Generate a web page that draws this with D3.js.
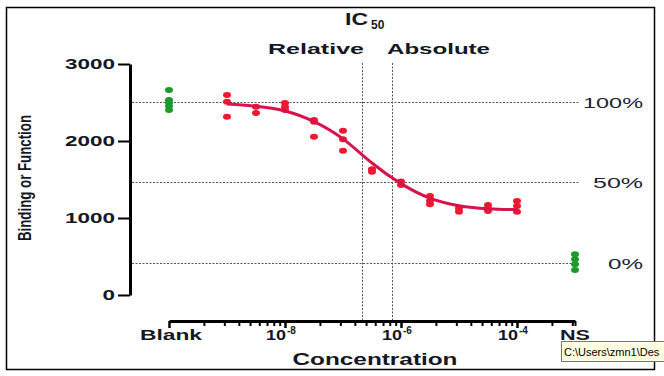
<!DOCTYPE html>
<html>
<head>
<meta charset="utf-8">
<script src="https://cdn.jsdelivr.net/npm/d3@7"></script>
<style>
  body { margin: 0; background: #fff; }
  text { font-family: "Liberation Sans", Arial, sans-serif; font-weight: bold; fill: #141824; }
</style>
</head>
<body>
<div id="chart"></div>
<script>
// dose-response data
const concentrations = [1e-9, 3.16e-9, 1e-8, 3.16e-8, 1e-7, 3.16e-7, 1e-6, 3.16e-6, 1e-5, 3.16e-5, 1e-4];
const replicates = [
    [2597, 2510, 2316],
    [2445, 2364],
    [2494, 2442, 2403],
    [2273, 2250, 2056],
    [2134, 2022, 1874],
    [1632, 1601],
    [1475, 1430],
    [1286, 1225, 1178],
    [1126, 1082],
    [1169, 1126, 1090],
    [1221, 1156, 1082]
];
const fitValues = [2480, 2455, 2405, 2265, 2050, 1700, 1435, 1240, 1150, 1118, 1108];
const blankValues = [2662, 2532, 2498, 2455, 2403];
const nsValues = [530, 465, 400, 325];
const blankPos = 1e-10;
const nsPos = 1e-3;
const yTicks = [0, 1000, 2000, 3000];
const xMajors = [1e-10, 1e-8, 1e-6, 1e-4];
const xLabels = [[1e-8, '-8'], [1e-6, '-6'], [1e-4, '-4']];
const refValues = [2510, 1462, 415];
const refLabels = ['100%', '50%', '0%'];
const ic50 = [['Relative', 2.09e-7], ['Absolute', 7.1e-7]];

const width = 664, height = 376;

const svg = d3.select('#chart').append('svg')
    .attr('width', width)
    .attr('height', height);

const x = d3.scaleLog().domain([1e-10, 1e-4]).range([169, 517]);
const y = d3.scaleLinear().domain([0, 3000]).range([295, 64]);

// frame
svg.append('rect')
    .attr('x', 6.5).attr('y', 7.5)
    .attr('width', 648).attr('height', 362)
    .attr('fill', 'none').attr('stroke', '#000').attr('stroke-width', 1.5);

// reference lines
svg.selectAll('.ref')
    .data(refValues)
    .enter().append('line')
    .attr('x1', 132).attr('x2', 579)
    .attr('y1', d => Math.round(y(d)) + 0.5)
    .attr('y2', d => Math.round(y(d)) + 0.5)
    .attr('stroke', '#555').attr('stroke-width', 1)
    .attr('stroke-dasharray', '2,1.5');

svg.selectAll('.refLabel')
    .data(refValues)
    .enter().append('text')
    .attr('x', 643)
    .attr('y', d => y(d) + 6)
    .attr('text-anchor', 'end')
    .attr('font-size', 15)
    .style('font-weight', 'normal')
    .style('fill', '#1c2438')
    .attr('textLength', (d, i) => [60, 50, 35][i])
    .attr('lengthAdjust', 'spacingAndGlyphs')
    .text((d, i) => refLabels[i]);

// IC50 verticals
svg.selectAll('.icLine')
    .data(ic50)
    .enter().append('line')
    .attr('x1', d => Math.round(x(d[1])) + 0.5)
    .attr('x2', d => Math.round(x(d[1])) + 0.5)
    .attr('y1', 63).attr('y2', 320)
    .attr('stroke', '#555').attr('stroke-width', 1)
    .attr('stroke-dasharray', '2,1.5');

svg.append('text')
    .attr('x', 364).attr('y', 54)
    .attr('text-anchor', 'end')
    .attr('font-size', 15)
    .attr('textLength', 96).attr('lengthAdjust', 'spacingAndGlyphs')
    .text(ic50[0][0]);
svg.append('text')
    .attr('x', 387).attr('y', 54)
    .attr('font-size', 15)
    .attr('textLength', 103).attr('lengthAdjust', 'spacingAndGlyphs')
    .text(ic50[1][0]);

// title
const title = svg.append('text').attr('x', 345).attr('y', 25).attr('font-size', 17);
title.append('tspan').attr('textLength', 23).attr('lengthAdjust', 'spacingAndGlyphs').text('IC');
title.append('tspan').attr('dy', 4).attr('font-size', 12).attr('dx', 3).text('50');

// y axis
const yAxis = svg.append('g')
    .attr('transform', 'translate(130,0)')
    .call(d3.axisLeft(y).tickValues(yTicks).tickFormat(d3.format('d'))
        .tickSize(12).tickSizeOuter(0).tickPadding(3));
yAxis.select('.domain').attr('stroke', '#000').attr('stroke-width', 3);
yAxis.selectAll('.tick line').attr('stroke', '#000').attr('stroke-width', 2);
yAxis.selectAll('.tick text')
    .attr('font-size', 14)
    .attr('font-family', '"Liberation Sans", Arial, sans-serif')
    .attr('textLength', d => String(d).length * 12.5)
    .attr('lengthAdjust', 'spacingAndGlyphs');

// x axis ticks: majors + minors
const xTickVals = [];
xMajors.forEach(m => {
    xTickVals.push(m);
    for (let k = 2; k <= 9; k++) {
        const v = m * k * k;
        if (v <= nsPos) xTickVals.push(v);
    }
});
xTickVals.push(nsPos);

const xAxisY = 321;
const xAxis = svg.append('g')
    .attr('transform', `translate(0,${xAxisY})`)
    .call(d3.axisBottom(d3.scaleLog().domain([blankPos, nsPos]).range([x(blankPos), x(nsPos)]))
        .tickValues(xTickVals).tickSize(5).tickSizeOuter(0).tickFormat(''));
xAxis.select('.domain').attr('stroke', '#000').attr('stroke-width', 3);
xAxis.selectAll('.tick line')
    .attr('stroke', '#000')
    .attr('stroke-width', d => xMajors.includes(d) ? 2.5 : 2)
    .attr('y2', d => xMajors.includes(d) ? 7 : 5);

// x labels
xLabels.forEach(([v, e]) => {
    const t = svg.append('text')
        .attr('x', x(v) - 19).attr('y', 340)
        .attr('font-size', 14);
    t.append('tspan').attr('textLength', 20).attr('lengthAdjust', 'spacingAndGlyphs').text('10');
    t.append('tspan').attr('dy', -6).attr('font-size', 10).attr('dx', 1).text(e);
});
svg.append('text')
    .attr('x', x(blankPos) + 2).attr('y', 340)
    .attr('text-anchor', 'middle').attr('font-size', 14)
    .attr('textLength', 62).attr('lengthAdjust', 'spacingAndGlyphs')
    .text('Blank');
svg.append('text')
    .attr('x', x(nsPos)).attr('y', 340)
    .attr('text-anchor', 'middle').attr('font-size', 14)
    .attr('textLength', 30).attr('lengthAdjust', 'spacingAndGlyphs')
    .text('NS');

// axis titles
svg.append('text')
    .attr('x', 375).attr('y', 365)
    .attr('text-anchor', 'middle').attr('font-size', 16)
    .attr('textLength', 165).attr('lengthAdjust', 'spacingAndGlyphs')
    .text('Concentration');
svg.append('text')
    .attr('transform', 'translate(31,178) rotate(-90)')
    .attr('text-anchor', 'middle').attr('font-size', 19)
    .attr('textLength', 126).attr('lengthAdjust', 'spacingAndGlyphs')
    .text('Binding or Function');

// points
const redPts = [];
concentrations.forEach((c, i) => replicates[i].forEach(v => redPts.push([c, v])));

svg.selectAll('.pt')
    .data(redPts)
    .enter().append('ellipse')
    .attr('cx', d => x(d[0])).attr('cy', d => y(d[1]))
    .attr('rx', 4).attr('ry', 3)
    .attr('fill', '#f0182e');

// fitted curve
const line = d3.line()
    .x((d, i) => x(concentrations[i]))
    .y(d => y(d))
    .curve(d3.curveBasis);
svg.append('path')
    .datum(fitValues)
    .attr('d', line)
    .attr('fill', 'none')
    .attr('stroke', '#d8124a')
    .attr('stroke-width', 3);

svg.selectAll('.blank')
    .data(blankValues)
    .enter().append('ellipse')
    .attr('cx', x(blankPos)).attr('cy', d => y(d))
    .attr('rx', 4).attr('ry', 3)
    .attr('fill', '#1c9a2c');
svg.selectAll('.ns')
    .data(nsValues)
    .enter().append('ellipse')
    .attr('cx', x(nsPos)).attr('cy', d => y(d))
    .attr('rx', 4).attr('ry', 3)
    .attr('fill', '#1c9a2c');

// tooltip box
svg.append('rect')
    .attr('x', 561.5).attr('y', 341.5)
    .attr('width', 110).attr('height', 20)
    .attr('fill', '#ffffe1').attr('stroke', '#767676');
svg.append('text')
    .attr('x', 564).attr('y', 356)
    .attr('font-size', 11)
    .style('font-weight', 'normal')
    .style('font-family', '"Liberation Sans", Arial, sans-serif')
    .style('fill', '#000')
    .text('C:\\Users\\zmn1\\Des');
</script>
</body>
</html>
